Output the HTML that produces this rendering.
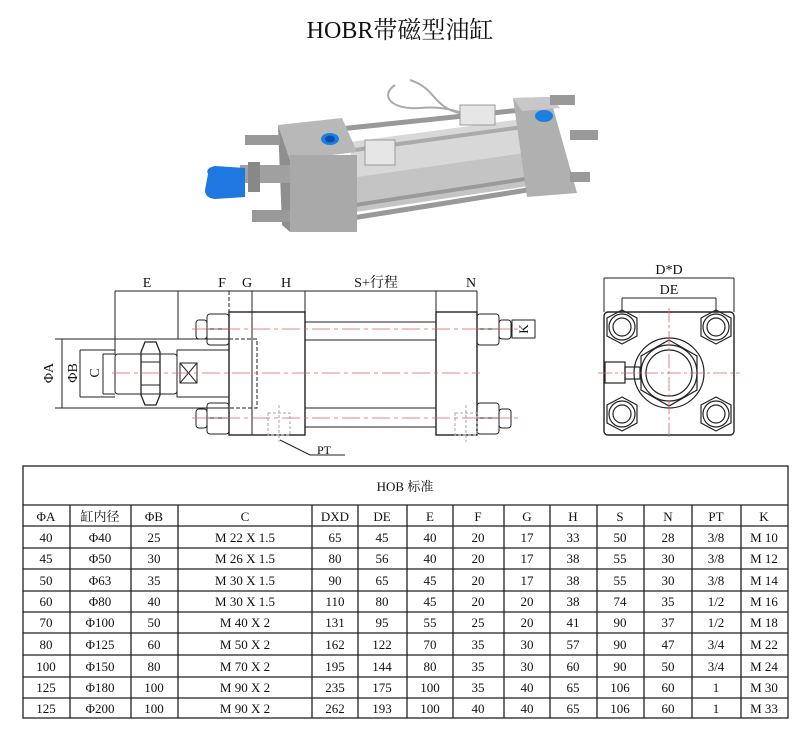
<!DOCTYPE html>
<html><head><meta charset="utf-8"><style>
html,body{margin:0;padding:0;background:#fff;}
svg{display:block;}
text{font-family:"Liberation Serif","Noto Serif CJK SC",serif;fill:#111;}
</style></head><body>
<svg width="800" height="750" viewBox="0 0 800 750" xmlns="http://www.w3.org/2000/svg">
<text x="400" y="38" font-size="24" text-anchor="middle">HOBR带磁型油缸</text>

<!-- photo -->
<g>
  <!-- rear rods -->
  <line x1="330" y1="130" x2="540" y2="108" stroke="#999" stroke-width="5"/>
  <line x1="340" y1="220" x2="540" y2="188" stroke="#999" stroke-width="5"/>
  <!-- tube -->
  <polygon points="350,142 530,118 535,185 355,212" fill="#d8d8d8"/>
  <polygon points="350,178 532,152 535,185 355,212" fill="#c4c4c4"/>
  <line x1="355" y1="150" x2="530" y2="126" stroke="#aaa" stroke-width="4"/>
  <line x1="355" y1="205" x2="532" y2="178" stroke="#9a9a9a" stroke-width="4"/>
  <!-- cables -->
  <path d="M395,85 C380,95 390,110 420,108 C450,105 470,115 480,125 M410,80 C440,90 430,110 470,115" stroke="#aaa" stroke-width="2" fill="none"/>
  <rect x="460" y="105" width="35" height="20" fill="#e6e6e6" stroke="#999"/>
  <rect x="365" y="140" width="30" height="25" fill="#e6e6e6" stroke="#999"/>
  <!-- front flange -->
  <polygon points="278,125 342,118 357,152 290,160" fill="#b8b8b8"/>
  <polygon points="278,125 290,160 290,232 282,225" fill="#8f8f8f"/>
  <rect x="290" y="155" width="67" height="77" fill="#a9a9a9"/>
  <ellipse cx="330" cy="139" rx="9" ry="6" fill="#1a7fe0"/>
  <ellipse cx="330" cy="139" rx="5" ry="3.5" fill="#0a4fb0"/>
  <!-- rear flange -->
  <polygon points="513,98 550,97 577,193 527,197" fill="#b0b0b0"/>
  <polygon points="513,98 550,97 560,108 522,111" fill="#c8c8c8"/>
  <ellipse cx="544" cy="116" rx="9" ry="6" fill="#1a7fe0"/>
  <!-- bolts -->
  <rect x="245" y="135" width="35" height="10" fill="#999"/>
  <rect x="252" y="210" width="38" height="12" fill="#999"/>
  <rect x="570" y="130" width="28" height="10" fill="#999"/>
  <rect x="570" y="172" width="20" height="10" fill="#999"/>
  <rect x="550" y="95" width="25" height="10" fill="#999"/>
  <!-- rod and cap -->
  <rect x="240" y="165" width="50" height="18" fill="#a0a0a0"/>
  <rect x="248" y="162" width="12" height="30" fill="#888"/>
  <path d="M208,174 Q205,168 215,166 L245,168 L245,197 L215,199 Q205,198 205,190 Z" fill="#1f77e0"/>
</g>

<!-- side view drawing -->
<g stroke="#222" fill="none" stroke-width="1">
  <!-- dimension top line -->
  <line x1="115" y1="291" x2="477" y2="291"/>
  <line x1="115" y1="291" x2="115" y2="355"/>
  <line x1="178" y1="291" x2="178" y2="339"/>
  <line x1="229" y1="291" x2="229" y2="312" stroke-dasharray="4,2"/>
  <line x1="252" y1="291" x2="252" y2="312"/>
  <line x1="305" y1="291" x2="305" y2="312"/>
  <line x1="436" y1="291" x2="436" y2="312"/>
  <line x1="477" y1="291" x2="477" y2="312"/>
  <!-- flanges -->
  <rect x="229" y="312" width="76" height="123" stroke-width="1.4"/>
  <line x1="252" y1="312" x2="252" y2="435"/>
  <rect x="436" y="312" width="41" height="123" stroke-width="1.4"/>
  <!-- rods/tube -->
  <line x1="305" y1="322" x2="436" y2="322"/><line x1="305" y1="340" x2="436" y2="340"/>
  <line x1="305" y1="408" x2="436" y2="408"/><line x1="305" y1="427" x2="436" y2="427"/>
  <!-- nuts -->
  <rect x="207" y="314" width="22" height="31" rx="3"/><line x1="207" y1="329" x2="229" y2="329"/>
  <rect x="196" y="320" width="11" height="19" rx="3"/>
  <rect x="207" y="403" width="22" height="31" rx="3"/><line x1="207" y1="418" x2="229" y2="418"/>
  <rect x="196" y="409" width="11" height="19" rx="3"/>
  <rect x="477" y="314" width="22" height="31" rx="3"/><line x1="477" y1="329" x2="499" y2="329"/>
  <rect x="499" y="320" width="12" height="19" rx="3"/>
  <rect x="477" y="403" width="22" height="31" rx="3"/><line x1="477" y1="418" x2="499" y2="418"/>
  <rect x="499" y="409" width="12" height="19" rx="3"/>
  <!-- piston rod -->
  <line x1="55" y1="339" x2="229" y2="339"/>
  <line x1="55" y1="408" x2="229" y2="408"/>
  <line x1="62" y1="339" x2="62" y2="408"/>
  <rect x="177" y="350" width="52" height="47"/>
  <rect x="115" y="354" width="62" height="40" rx="3"/>
  <path d="M145,342 L156,342 L160,352 L160,395 L156,405 L145,405 L141,395 L141,352 Z" stroke-width="1.3"/>
  <line x1="141" y1="362" x2="160" y2="362"/><line x1="141" y1="385" x2="160" y2="385"/>
  <rect x="180" y="363" width="17" height="20"/>
  <line x1="180" y1="363" x2="197" y2="383"/><line x1="197" y1="363" x2="180" y2="383"/>
  <line x1="80" y1="350" x2="115" y2="350"/><line x1="80" y1="397" x2="115" y2="397"/><line x1="80" y1="350" x2="80" y2="397"/>
  <line x1="103" y1="354" x2="115" y2="354"/><line x1="103" y1="394" x2="115" y2="394"/><line x1="103" y1="354" x2="103" y2="394"/>
  <!-- hidden lines -->
  <path d="M229,339 L257,339 L257,408 L229,408" stroke-dasharray="4,2"/>
  <g stroke="#aaa" stroke-dasharray="3,2">
    <rect x="268" y="413" width="22" height="22"/><line x1="279" y1="405" x2="279" y2="442"/>
    <rect x="455" y="413" width="22" height="22"/><line x1="466" y1="405" x2="466" y2="442"/>
  </g>
  <!-- K box -->
  <rect x="512" y="320" width="23" height="18"/>
  <!-- PT leader -->
  <polyline points="280,440 310,455 345,455"/>
</g>
<g stroke="#e06060" stroke-width="0.8" stroke-dasharray="18,4,4,4">
  <line x1="192" y1="329" x2="518" y2="329"/>
  <line x1="192" y1="418" x2="518" y2="418"/>
  <line x1="112" y1="373" x2="480" y2="373"/>
</g>
<g font-size="14" text-anchor="middle">
  <text x="147" y="287">E</text><text x="222" y="287">F</text><text x="247" y="287">G</text>
  <text x="286" y="287">H</text><text x="376" y="287">S+行程</text><text x="471" y="287">N</text>
  <text x="324" y="454" font-size="12" fill="#444">PT</text>
  <text transform="translate(528,329) rotate(-90)" font-size="13" dy="0">K</text>
  <text transform="translate(53,373) rotate(-90)">ΦA</text>
  <text transform="translate(77,373) rotate(-90)">ΦB</text>
  <text transform="translate(99,373) rotate(-90)">C</text>
</g>

<!-- end view -->
<g stroke="#222" fill="none" stroke-width="1">
  <line x1="604" y1="278" x2="734" y2="278"/>
  <line x1="604" y1="278" x2="604" y2="312"/><line x1="734" y1="278" x2="734" y2="312"/>
  <line x1="622" y1="298" x2="716" y2="298"/>
  <line x1="622" y1="298" x2="622" y2="312"/><line x1="716" y1="298" x2="716" y2="312"/>
  <rect x="604" y="312" width="130" height="123" rx="4" stroke-width="1.4"/>
  <g stroke-width="1.2">
    <polygon points="622,310 637,318 637,336 622,344 607,336 607,318"/><circle cx="622" cy="327" r="13"/><circle cx="622" cy="327" r="9"/>
    <polygon points="716,310 731,318 731,336 716,344 701,336 701,318"/><circle cx="716" cy="327" r="13"/><circle cx="716" cy="327" r="9"/>
    <polygon points="622,397 637,405 637,423 622,431 607,423 607,405"/><circle cx="622" cy="414" r="13"/><circle cx="622" cy="414" r="9"/>
    <polygon points="716,397 731,405 731,423 716,431 701,423 701,405"/><circle cx="716" cy="414" r="13"/><circle cx="716" cy="414" r="9"/>
    <circle cx="669" cy="373" r="35"/>
    <polygon points="669,340 697,356 697,390 669,406 641,390 641,356"/>
    <circle cx="669" cy="373" r="28"/><circle cx="669" cy="373" r="23"/>
    <rect x="605" y="362" width="20" height="21"/><rect x="625" y="367" width="15" height="12"/>
  </g>
</g>
<g stroke="#e06060" stroke-width="0.8" stroke-dasharray="14,3,3,3">
  <line x1="669" y1="308" x2="669" y2="440"/>
  <line x1="598" y1="373" x2="740" y2="373"/>
</g>
<g font-size="14" text-anchor="middle"><text x="669" y="274">D*D</text><text x="669" y="294">DE</text></g>

<!-- table -->
<g stroke="#222" stroke-width="1.3" fill="none">
  <rect x="23" y="466" width="765" height="252"/>
  <line x1="23" y1="505" x2="788" y2="505"/>
  <line x1="23" y1="526" x2="788" y2="526"/>
  <line x1="23" y1="548" x2="788" y2="548"/>
  <line x1="23" y1="569" x2="788" y2="569"/>
  <line x1="23" y1="591" x2="788" y2="591"/>
  <line x1="23" y1="612" x2="788" y2="612"/>
  <line x1="23" y1="633" x2="788" y2="633"/>
  <line x1="23" y1="655" x2="788" y2="655"/>
  <line x1="23" y1="677" x2="788" y2="677"/>
  <line x1="23" y1="698" x2="788" y2="698"/>
  <line x1="70" y1="505" x2="70" y2="718"/><line x1="131" y1="505" x2="131" y2="718"/>
  <line x1="178" y1="505" x2="178" y2="718"/><line x1="312" y1="505" x2="312" y2="718"/>
  <line x1="358" y1="505" x2="358" y2="718"/><line x1="407" y1="505" x2="407" y2="718"/>
  <line x1="453" y1="505" x2="453" y2="718"/><line x1="504" y1="505" x2="504" y2="718"/>
  <line x1="550" y1="505" x2="550" y2="718"/><line x1="597" y1="505" x2="597" y2="718"/>
  <line x1="644" y1="505" x2="644" y2="718"/><line x1="692" y1="505" x2="692" y2="718"/>
  <line x1="741" y1="505" x2="741" y2="718"/>
</g>
<text x="405" y="491" font-size="13" text-anchor="middle">HOB 标准</text>
<g font-size="13" text-anchor="middle">
<g transform="translate(0,521)"><text x="46">ΦA</text><text x="100">缸内径</text><text x="154">ΦB</text><text x="245">C</text><text x="335">DXD</text><text x="382">DE</text><text x="430">E</text><text x="478">F</text><text x="527">G</text><text x="573">H</text><text x="620">S</text><text x="668">N</text><text x="716">PT</text><text x="764">K</text></g>
<g transform="translate(0,542)"><text x="46">40</text><text x="100">Φ40</text><text x="154">25</text><text x="245">M 22 X 1.5</text><text x="335">65</text><text x="382">45</text><text x="430">40</text><text x="478">20</text><text x="527">17</text><text x="573">33</text><text x="620">50</text><text x="668">28</text><text x="716">3/8</text><text x="764">M 10</text></g>
<g transform="translate(0,563)"><text x="46">45</text><text x="100">Φ50</text><text x="154">30</text><text x="245">M 26 X 1.5</text><text x="335">80</text><text x="382">56</text><text x="430">40</text><text x="478">20</text><text x="527">17</text><text x="573">38</text><text x="620">55</text><text x="668">30</text><text x="716">3/8</text><text x="764">M 12</text></g>
<g transform="translate(0,585)"><text x="46">50</text><text x="100">Φ63</text><text x="154">35</text><text x="245">M 30 X 1.5</text><text x="335">90</text><text x="382">65</text><text x="430">45</text><text x="478">20</text><text x="527">17</text><text x="573">38</text><text x="620">55</text><text x="668">30</text><text x="716">3/8</text><text x="764">M 14</text></g>
<g transform="translate(0,606)"><text x="46">60</text><text x="100">Φ80</text><text x="154">40</text><text x="245">M 30 X 1.5</text><text x="335">110</text><text x="382">80</text><text x="430">45</text><text x="478">20</text><text x="527">20</text><text x="573">38</text><text x="620">74</text><text x="668">35</text><text x="716">1/2</text><text x="764">M 16</text></g>
<g transform="translate(0,627)"><text x="46">70</text><text x="100">Φ100</text><text x="154">50</text><text x="245">M 40 X 2</text><text x="335">131</text><text x="382">95</text><text x="430">55</text><text x="478">25</text><text x="527">20</text><text x="573">41</text><text x="620">90</text><text x="668">37</text><text x="716">1/2</text><text x="764">M 18</text></g>
<g transform="translate(0,649)"><text x="46">80</text><text x="100">Φ125</text><text x="154">60</text><text x="245">M 50 X 2</text><text x="335">162</text><text x="382">122</text><text x="430">70</text><text x="478">35</text><text x="527">30</text><text x="573">57</text><text x="620">90</text><text x="668">47</text><text x="716">3/4</text><text x="764">M 22</text></g>
<g transform="translate(0,671)"><text x="46">100</text><text x="100">Φ150</text><text x="154">80</text><text x="245">M 70 X 2</text><text x="335">195</text><text x="382">144</text><text x="430">80</text><text x="478">35</text><text x="527">30</text><text x="573">60</text><text x="620">90</text><text x="668">50</text><text x="716">3/4</text><text x="764">M 24</text></g>
<g transform="translate(0,692)"><text x="46">125</text><text x="100">Φ180</text><text x="154">100</text><text x="245">M 90 X 2</text><text x="335">235</text><text x="382">175</text><text x="430">100</text><text x="478">35</text><text x="527">40</text><text x="573">65</text><text x="620">106</text><text x="668">60</text><text x="716">1</text><text x="764">M 30</text></g>
<g transform="translate(0,713)"><text x="46">125</text><text x="100">Φ200</text><text x="154">100</text><text x="245">M 90 X 2</text><text x="335">262</text><text x="382">193</text><text x="430">100</text><text x="478">40</text><text x="527">40</text><text x="573">65</text><text x="620">106</text><text x="668">60</text><text x="716">1</text><text x="764">M 33</text></g>
</g>
</svg>
</body></html>
